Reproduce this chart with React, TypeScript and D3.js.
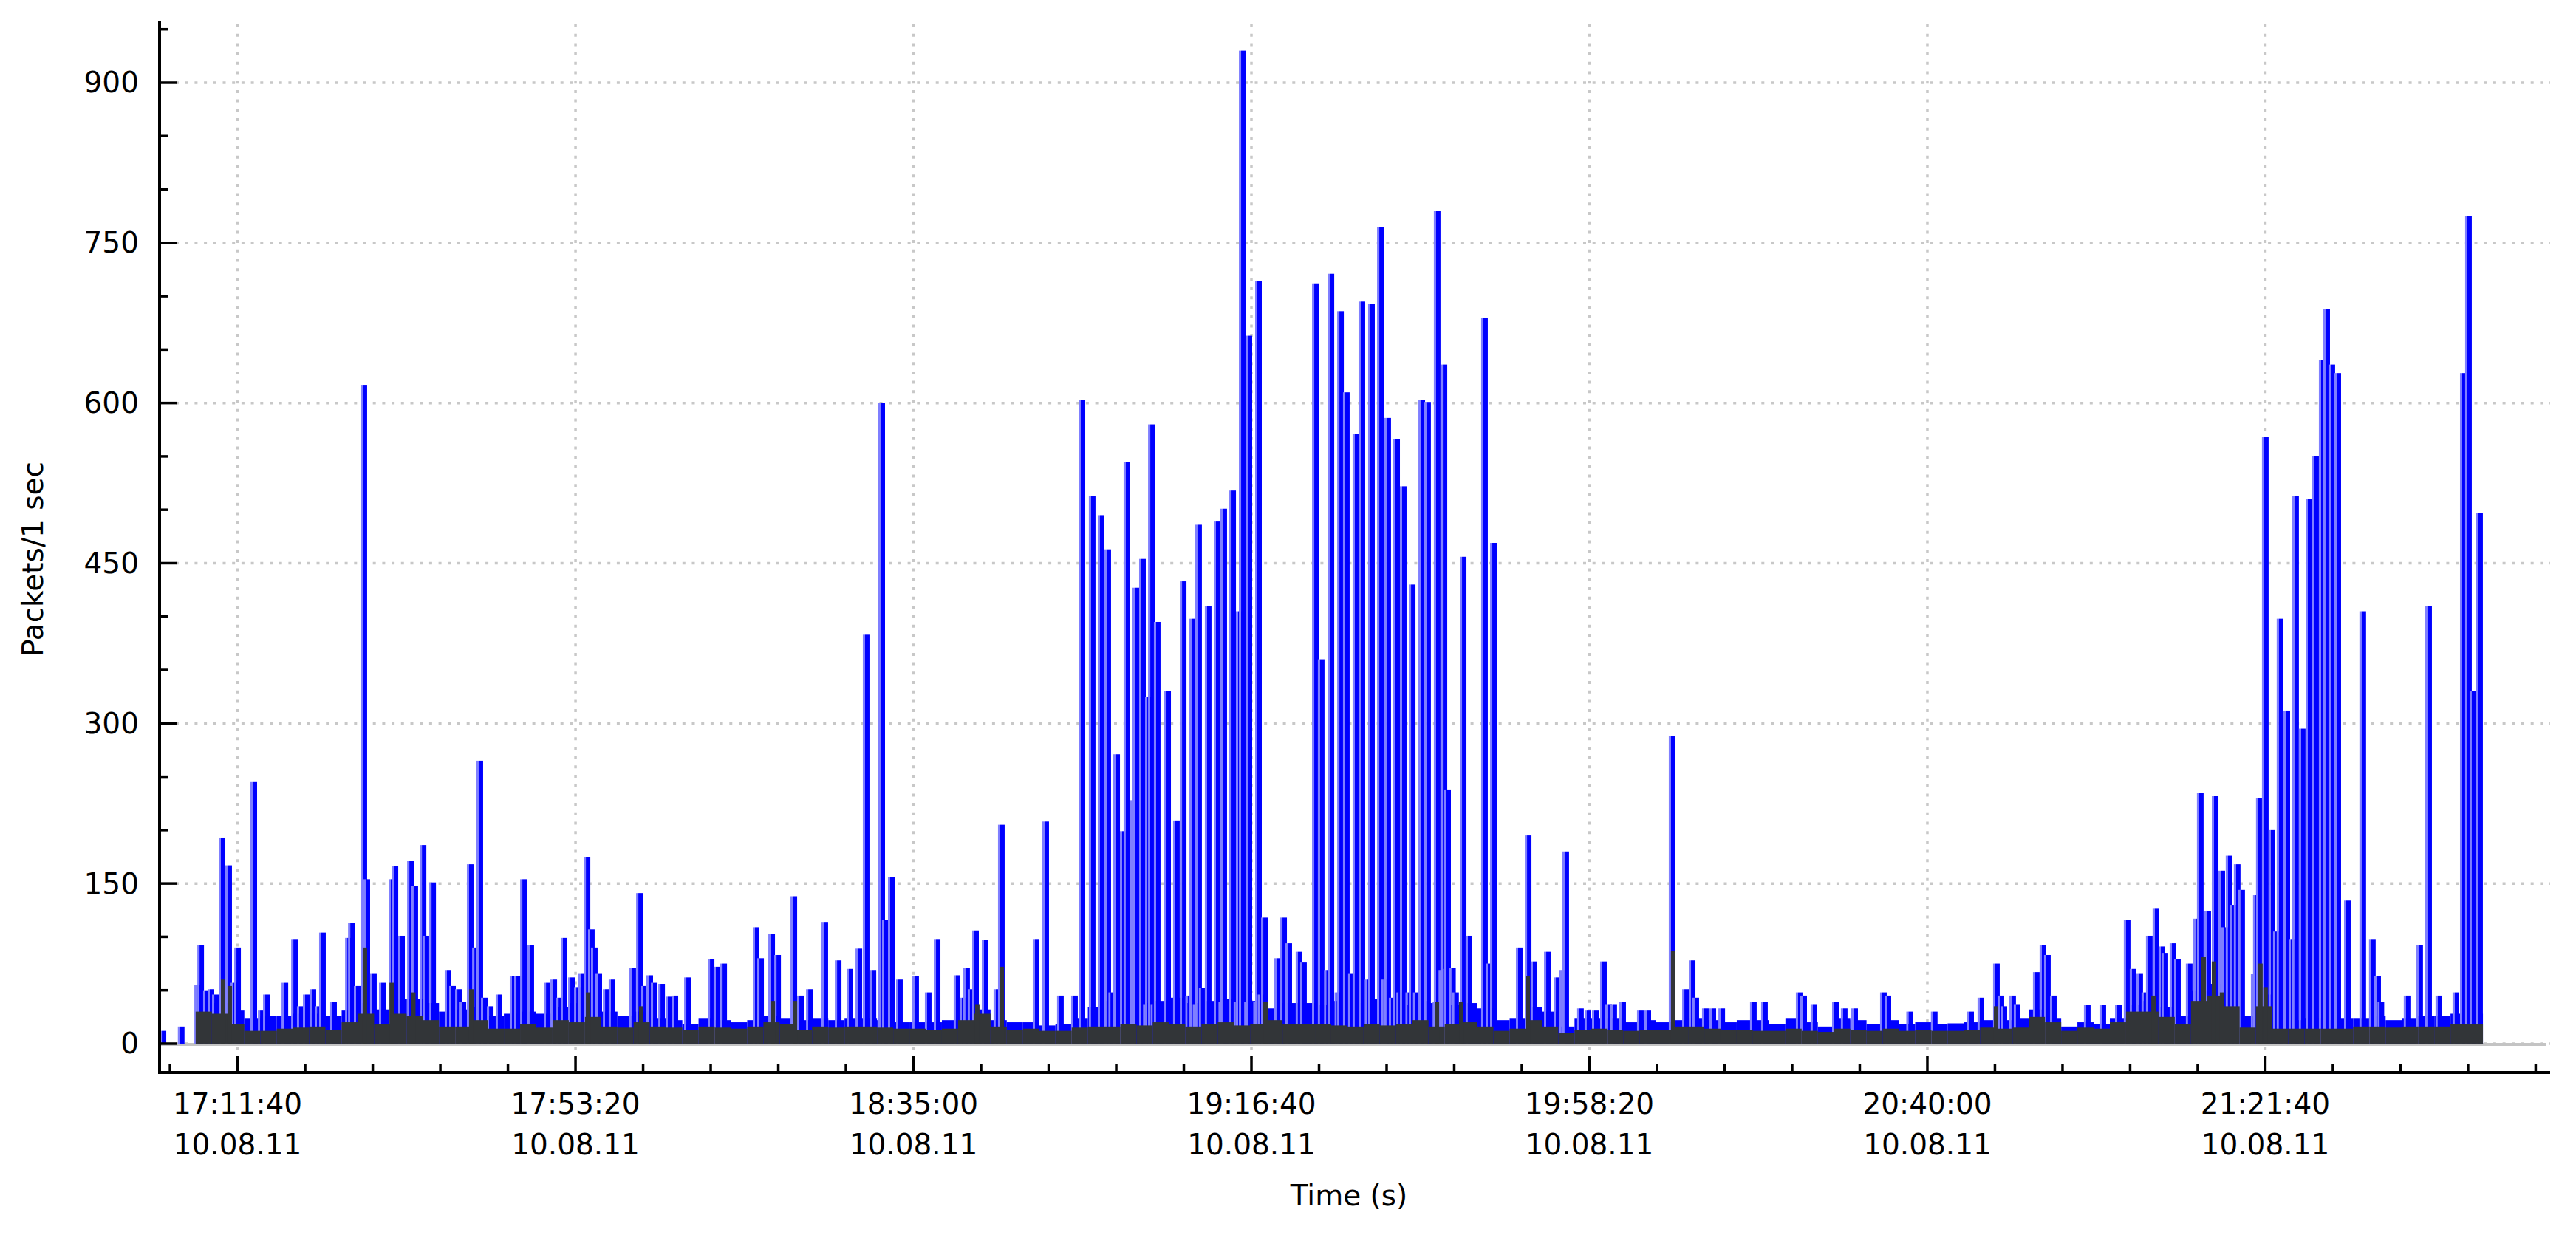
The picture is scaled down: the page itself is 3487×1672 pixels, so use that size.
import React from 'react';
import * as d3 from 'd3';

// all times are seconds after 17:00:00 on 10.08.11
const BAND_START = 390;
const BAND_STEP = 120;

// lower envelope of the blue series, one value per 120 s
const blueBand = [
  42, 38, 31, 24, 26, 26, 28, 28, 26, 31, 38, 32, 42, 42, 38, 30, 32, 34, 26, 28, 30, 28, 34, 38, 38, 30, 26,
  30, 24, 22, 18, 24, 22, 20, 22, 26, 24, 22, 24, 22, 24, 24, 22, 20, 20, 20, 22, 27, 32, 22, 20, 20, 17, 18, 24, 34,
  40, 42, 38, 40, 43, 38, 40, 42, 38, 40, 33, 38, 38, 36, 40, 38, 42, 38, 36, 40, 38, 36, 38, 33, 22, 24, 34, 30,
  16, 24, 24, 24, 20, 22, 20, 22, 24, 22, 20, 22, 22, 18, 24, 20, 16, 24, 22, 18, 22, 18, 20, 18, 19, 20, 22, 22,
  24, 32, 24, 16, 20, 18, 24, 36, 40, 34, 26, 50, 56, 46, 26, 46, 24, 22, 24, 22, 24, 24, 26, 22, 24, 26, 26, 28, 28,
];

// dark series, one value per 120 s
const grayBand = [
  30, 28, 18, 12, 12, 14, 15, 16, 13, 20, 28, 18, 28, 26, 22, 16, 16, 22, 14, 14, 18, 15, 22, 20, 25, 16, 15,
  20, 16, 15, 13, 16, 15, 14, 16, 20, 18, 13, 16, 15, 16, 16, 15, 14, 14, 13, 14, 22, 28, 16, 13, 14, 12, 12, 15, 16,
  16, 18, 17, 20, 18, 16, 18, 20, 17, 18, 22, 18, 18, 18, 17, 16, 18, 17, 18, 22, 16, 18, 20, 16, 12, 14, 22, 16,
  10, 13, 14, 13, 12, 13, 13, 16, 16, 14, 13, 13, 12, 12, 14, 12, 11, 14, 13, 12, 14, 12, 13, 12, 12, 13, 15, 14,
  15, 25, 20, 12, 15, 14, 20, 30, 30, 25, 18, 40, 45, 35, 15, 35, 14, 14, 14, 14, 14, 16, 16, 15, 16, 16, 16, 18, 18,
];

// single-second peaks of the blue series: [time, packets]
const blueSpikes: [number, number][] = [
  [156, 12], [291, 16],
  [413, 55], [435, 92], [478, 50], [511, 51], [544, 46], [593, 193], [642, 167], [681, 57], [708, 90], [828, 245],
  [883, 31], [921, 46], [1058, 57], [1129, 98], [1172, 35], [1216, 46], [1265, 51], [1304, 35], [1336, 104],
  [1418, 39], [1528, 99], [1550, 113], [1593, 54], [1642, 617], [1664, 154], [1713, 66], [1779, 57], [1850, 154],
  [1872, 166], [1921, 101], [1987, 171], [2019, 148], [2080, 186], [2101, 101], [2151, 151], [2265, 69], [2298, 54],
  [2342, 51], [2375, 39], [2429, 168], [2468, 90], [2500, 265], [2533, 43], [2577, 35], [2642, 46], [2746, 63],
  [2779, 63], [2823, 154], [2877, 92], [2998, 57], [3047, 60], [3091, 43], [3123, 99], [3178, 62], [3222, 53],
  [3254, 66], [3293, 175], [3325, 107], [3347, 90], [3380, 66], [3435, 51], [3478, 60],
  [3631, 71], [3681, 141], [3719, 54], [3757, 64], [3790, 57], [3845, 56], [3899, 44], [3943, 45], [4036, 62],
  [4211, 79], [4254, 72], [4304, 75], [4544, 109], [4577, 80], [4659, 103], [4703, 83], [4823, 138], [4872, 45],
  [4938, 51], [5052, 114], [5151, 78], [5238, 70], [5304, 89], [5358, 383], [5408, 69], [5473, 600], [5500, 116],
  [5544, 156], [5604, 60], [5724, 63], [5817, 48], [5883, 98], [6030, 64], [6074, 43], [6101, 71], [6134, 51],
  [6167, 106], [6238, 97], [6325, 51], [6358, 205], [6615, 98], [6686, 208], [6795, 45], [6899, 45],
  [6954, 603], [7030, 513], [7096, 495], [7145, 463], [7175, 48], [7211, 271], [7260, 199], [7287, 545],
  [7331, 228], [7353, 427], [7402, 454], [7431, 37], [7446, 325], [7468, 580], [7487, 37], [7511, 395],
  [7588, 330], [7653, 209], [7703, 433], [7744, 45], [7774, 398], [7799, 37], [7817, 486], [7844, 52],
  [7888, 410], [7954, 489], [7989, 39], [8003, 501], [8069, 518], [8101, 39], [8118, 405], [8140, 930],
  [8179, 39], [8189, 663], [8246, 39], [8260, 714], [8279, 46], [8304, 118], [8402, 80], [8446, 118], [8484, 94],
  [8560, 86], [8593, 76], [8681, 712], [8724, 360], [8770, 69], [8796, 721], [8848, 48], [8867, 686],
  [8910, 610], [8948, 66], [8981, 571], [9025, 695], [9071, 60], [9096, 693], [9162, 765], [9194, 60],
  [9216, 586], [9249, 43], [9282, 566], [9305, 48], [9331, 522], [9372, 48], [9397, 430], [9428, 48],
  [9468, 603], [9511, 601], [9573, 39], [9582, 780], [9617, 69], [9632, 636], [9651, 70], [9659, 238],
  [9695, 71], [9718, 48], [9774, 456], [9817, 101], [9932, 680], [9965, 75], [9998, 469], [10189, 90],
  [10255, 195], [10298, 77], [10397, 86], [10468, 62], [10511, 69], [10533, 180],
  [10642, 33], [10697, 31], [10752, 31], [10812, 77], [10850, 37], [10888, 37], [10954, 39], [11085, 31],
  [11140, 31], [11320, 288], [11419, 51], [11468, 78], [11495, 43], [11566, 33], [11621, 33], [11687, 33],
  [11921, 39], [12003, 39], [12260, 48], [12293, 45], [12369, 37], [12528, 39], [12593, 33], [12670, 33],
  [12883, 48], [12916, 45], [13077, 30], [13259, 30], [13528, 30], [13604, 43], [13719, 75], [13752, 45],
  [13774, 35], [13839, 45], [13872, 37],
  [14014, 67], [14063, 92], [14096, 83], [14140, 45], [14391, 36], [14506, 36], [14621, 36], [14686, 116],
  [14730, 70], [14779, 66], [14817, 48], [14850, 101], [14899, 127], [14943, 91], [14965, 85], [15025, 94],
  [15058, 79], [15145, 75], [15200, 117], [15227, 235], [15282, 124], [15337, 232], [15386, 162], [15408, 109],
  [15440, 176], [15468, 130], [15500, 168], [15533, 144], [15626, 65], [15642, 139], [15664, 230], [15708, 568],
  [15757, 200], [15790, 105], [15817, 398], [15867, 312], [15905, 98], [15932, 513], [15981, 295], [16031, 510],
  [16080, 550], [16129, 640], [16162, 688], [16200, 636], [16244, 628], [16315, 134], [16429, 405], [16500, 98],
  [16539, 63], [16563, 39], [16757, 45], [16850, 92], [16916, 410], [16992, 45], [17118, 48], [17173, 628],
  [17211, 775], [17244, 330], [17293, 497],
];

// single-second peaks of the dark series
const graySpikes: [number, number][] = [
  [593, 60], [642, 54], [1642, 90], [1840, 57], [2000, 48], [2429, 51], [3293, 48], [3686, 35], [4659, 40],
  [4823, 40], [6172, 37], [6353, 72], [8304, 39], [9572, 39], [9752, 39], [10244, 63], [11320, 87], [13708, 35],
  [14873, 45], [15244, 81], [15320, 77], [15380, 48], [15664, 75], [15702, 53],
];

const yTicks = [0, 150, 300, 450, 600, 750, 900];
const xTicks = [700, 3200, 5700, 8200, 10700, 13200, 15700];
const dateLabel = '10.08.11';

const FONT = 'DejaVu Sans';

const App: React.FC = () => {
  const W = 3487;
  const H = 1672;

  const x = d3.scaleLinear().domain([123, 17807]).range([216, 3452]);
  const y = d3.scaleLinear().domain([-27, 957.4]).range([1452, 29]);

  const fmt = d3.timeFormat('%H:%M:%S');
  const base = new Date(2011, 7, 10, 17, 0, 0).getTime();
  const clock = (t: number) => fmt(new Date(base + t * 1000));

  const minorX = d3.range(200, 17800, 500);
  const minorY = d3.range(50, 951, 50).filter((v) => v % 150 !== 0);

  const STICK = 6;
  const y0 = y(0);

  return (
    <svg
      width={W}
      height={H}
      style={{ position: 'absolute', left: 0, top: 0, background: '#fff' }}
      fontFamily={FONT}
    >
      <rect x={0} y={0} width={W} height={H} fill="#fff" />

      {/* grid */}
      <g stroke="#c8c8c8" strokeWidth={3.5} strokeDasharray="4 8.7">
        {yTicks.map((v) => (
          <line key={'gy' + v} x1={x.range()[0] + 22} x2={x.range()[1]} y1={y(v)} y2={y(v)} />
        ))}
        {xTicks.map((t) => (
          <line key={'gx' + t} x1={x(t)} x2={x(t)} y1={33} y2={1440} />
        ))}
      </g>

      {/* zero line */}
      <line x1={216} x2={3447} y1={y0 + 1} y2={y0 + 1} stroke="#c4c4c4" strokeWidth={4} />

      {/* blue series */}
      <g fill="#0000ff">
        {blueBand.map((v, i) => {
          const t = BAND_START + i * BAND_STEP;
          return (
            <rect key={'bb' + i} x={x(t)} width={x(t + BAND_STEP) - x(t)} y={y(v)} height={y0 - y(v)} />
          );
        })}
        {blueSpikes.map(([t, v], i) => (
          <g key={'bs' + i}>
            <rect x={x(t) - STICK / 2 - 3} width={3} y={y(v)} height={y0 - y(v)} fill="#7f7fff" />
            <rect x={x(t) - STICK / 2} width={STICK} y={y(v)} height={y0 - y(v)} />
          </g>
        ))}
      </g>

      {/* dark series */}
      <g fill="#323538">
        {grayBand.map((v, i) => {
          const t = BAND_START + i * BAND_STEP;
          return (
            <rect key={'gb' + i} x={x(t)} width={x(t + BAND_STEP) - x(t)} y={y(v)} height={y0 - y(v)} />
          );
        })}
        {graySpikes.map(([t, v], i) => (
          <rect key={'gs' + i} x={x(t) - STICK / 2} width={STICK} y={y(v)} height={y0 - y(v)} />
        ))}
      </g>

      {/* y axis */}
      <g stroke="#000" strokeWidth={3.5}>
        <line x1={216} x2={216} y1={29} y2={1454} strokeWidth={4} />
        {yTicks.map((v) => (
          <line key={'yt' + v} x1={216} x2={239} y1={y(v)} y2={y(v)} />
        ))}
        {minorY.map((v) => (
          <line key={'ym' + v} x1={216} x2={227} y1={y(v)} y2={y(v)} />
        ))}
      </g>
      <g fontSize={39} fill="#000" textAnchor="end">
        {yTicks.map((v) => (
          <text key={'yl' + v} x={188} y={y(v)} dominantBaseline="central">
            {v}
          </text>
        ))}
      </g>
      <text
        transform="translate(44,757) rotate(-90)"
        textAnchor="middle"
        dominantBaseline="central"
        fontSize={39}
        fill="#000"
      >
        Packets/1 sec
      </text>

      {/* x axis */}
      <g stroke="#000" strokeWidth={3.5}>
        <line x1={214} x2={3452} y1={1452} y2={1452} strokeWidth={4} />
        {xTicks.map((t) => (
          <line key={'xt' + t} x1={x(t)} x2={x(t)} y1={1452} y2={1429} />
        ))}
        {minorX
          .filter((t) => !xTicks.includes(t))
          .map((t) => (
            <line key={'xm' + t} x1={x(t)} x2={x(t)} y1={1452} y2={1441} />
          ))}
      </g>
      <g fontSize={39} fill="#000" textAnchor="middle">
        {xTicks.map((t) => (
          <g key={'xl' + t}>
            <text x={x(t)} y={1508}>
              {clock(t)}
            </text>
            <text x={x(t)} y={1563}>
              {dateLabel}
            </text>
          </g>
        ))}
      </g>
      <text x={1826} y={1632} textAnchor="middle" fontSize={39} fill="#000">
        Time (s)
      </text>
    </svg>
  );
};

export default App;
